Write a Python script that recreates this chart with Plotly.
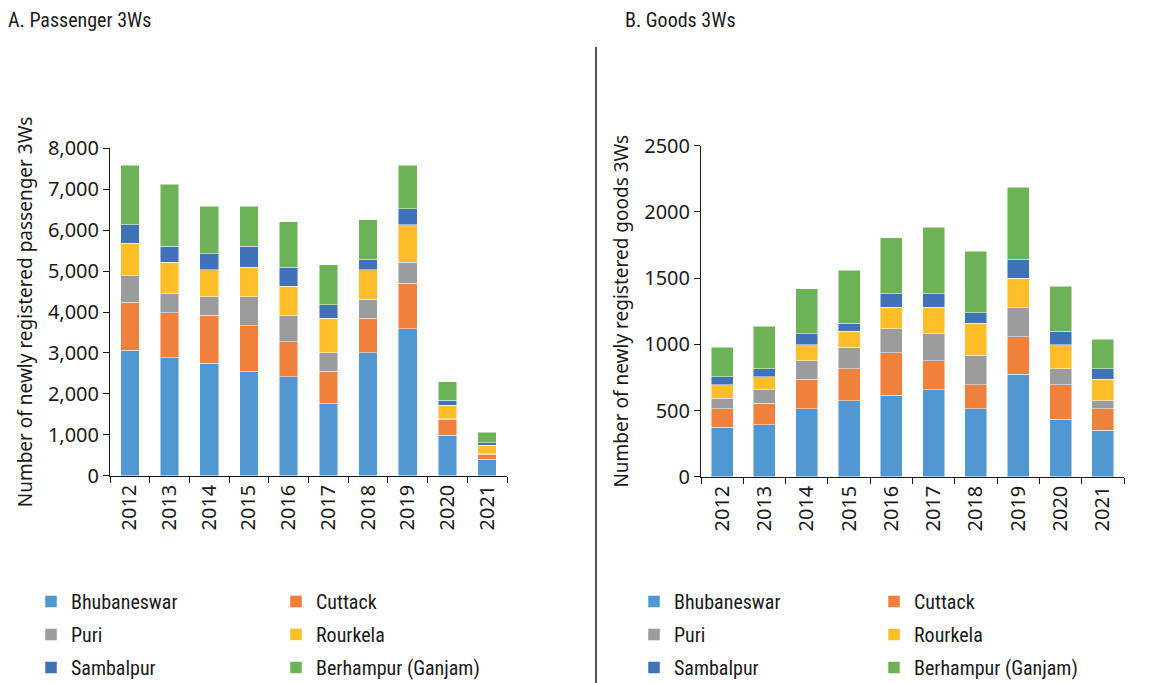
import plotly.graph_objects as go

W, H = 1161, 683
OFFSET = 8  # page body margin shifts the whole figure by 8px

years = ["2012", "2013", "2014", "2015", "2016", "2017", "2018", "2019", "2020", "2021"]
cities = ["Bhubaneswar", "Cuttack", "Puri", "Rourkela", "Sambalpur", "Berhampur (Ganjam)"]
colors = ["#5098D2", "#F0813D", "#9A9C9D", "#FEBE28", "#3F72B9", "#6DB256"]

# A. Passenger 3Ws
pass_bhubaneswar = [3070, 2880, 2745, 2550, 2420, 1770, 3006, 3590, 986, 400]
pass_cuttack = [1170, 1100, 1175, 1110, 850, 780, 844, 1110, 390, 130]
pass_puri = [650, 460, 455, 715, 640, 456, 460, 520, 15, 15]
pass_rourkela = [790, 780, 655, 715, 725, 844, 720, 910, 325, 195]
pass_sambalpur = [450, 390, 390, 520, 455, 330, 260, 395, 130, 65]
pass_berhampur = [1450, 1510, 1170, 980, 1110, 977, 970, 1055, 455, 260]

# B. Goods 3Ws
goods_bhubaneswar = [373, 393, 514, 574, 614, 655, 514, 775, 433, 352]
goods_cuttack = [141, 161, 221, 242, 323, 221, 181, 282, 262, 162]
goods_puri = [80, 101, 141, 161, 181, 202, 221, 222, 121, 60]
goods_rourkela = [101, 100, 121, 121, 161, 201, 242, 221, 181, 161]
goods_sambalpur = [60, 61, 81, 60, 101, 101, 81, 141, 101, 81]
goods_berhampur = [222, 322, 342, 403, 423, 503, 463, 544, 342, 221]

passenger = [pass_bhubaneswar, pass_cuttack, pass_puri, pass_rourkela, pass_sambalpur, pass_berhampur]
goods = [goods_bhubaneswar, goods_cuttack, goods_puri, goods_rourkela, goods_sambalpur, goods_berhampur]


def px_x(v):
    return (v - OFFSET) / W


def px_y(v):
    return 1 - (v - OFFSET) / H


NARROW = "Liberation Sans Narrow, Roboto Condensed, Arial Narrow, sans-serif"
TICKFONT = dict(family="Noto Sans", size=20, color="#1a1a1a")

fig = go.Figure()

# legends: two columns per panel -> two vertical legends per panel
for i, (city, col) in enumerate(zip(cities, colors)):
    fig.add_trace(go.Bar(
        x=years, y=passenger[i], name=city, marker=dict(color=col, line=dict(color="rgba(255,255,255,0.6)", width=0.8)),
        width=0.47, xaxis="x", yaxis="y", legend="legend" if i % 2 == 0 else "legend2",
        legendgroup="p" + city,
    ))
for i, (city, col) in enumerate(zip(cities, colors)):
    fig.add_trace(go.Bar(
        x=years, y=goods[i], name=city, marker=dict(color=col, line=dict(color="rgba(255,255,255,0.6)", width=0.8)),
        width=0.52, xaxis="x2", yaxis="y2", legend="legend3" if i % 2 == 0 else "legend4",
        legendgroup="g" + city,
    ))

axis_common = dict(
    showline=True, linecolor="#1a1a1a", linewidth=1, ticks="outside", ticklen=6,
    tickcolor="#1a1a1a", showgrid=False, zeroline=False, tickfont=TICKFONT, automargin=False,
)

fig.update_layout(
    width=W, height=H, barmode="stack", plot_bgcolor="white", paper_bgcolor="white",
    margin=dict(l=0, r=0, t=0, b=0, autoexpand=False),
    xaxis=dict(domain=[px_x(110), px_x(507)], tickangle=-90, tickson="boundaries", **axis_common),
    yaxis=dict(domain=[px_y(475.7), px_y(148.3)], range=[0, 8000], dtick=1000, tickformat=",",
               title=dict(text="Number of newly registered passenger 3Ws",
                          font=dict(family="Noto Sans", size=19, color="#1a1a1a"), standoff=10),
               **axis_common),
    xaxis2=dict(domain=[px_x(701), px_x(1124)], tickangle=-90, tickson="boundaries", anchor="y2", **axis_common),
    yaxis2=dict(domain=[px_y(476.7), px_y(145.7)], range=[0, 2500], dtick=500, anchor="x2",
                title=dict(text="Number of newly registered goods 3Ws",
                           font=dict(family="Noto Sans", size=19, color="#1a1a1a"), standoff=10),
                **axis_common),
    showlegend=True,
)

leg_common = dict(orientation="v", traceorder="grouped", tracegroupgap=4, yanchor="top",
                  xanchor="left", font=dict(family=NARROW, size=20, color="#1a1a1a"),
                  bgcolor="rgba(0,0,0,0)", itemwidth=30)
fig.update_layout(
    legend=dict(x=px_x(31), y=px_y(582), **leg_common),
    legend2=dict(x=px_x(276), y=px_y(582), **leg_common),
    legend3=dict(x=px_x(634), y=px_y(582), **leg_common),
    legend4=dict(x=px_x(874), y=px_y(582), **leg_common),
)

# panel titles
fig.add_annotation(text="A. Passenger 3Ws", x=px_x(6), y=px_y(20), xref="paper", yref="paper",
                   xanchor="left", yanchor="middle", showarrow=False,
                   font=dict(family=NARROW, size=20, color="#1a1a1a"))
fig.add_annotation(text="B. Goods 3Ws", x=px_x(623), y=px_y(20), xref="paper", yref="paper",
                   xanchor="left", yanchor="middle", showarrow=False,
                   font=dict(family=NARROW, size=20, color="#1a1a1a"))

# divider between the panels
fig.add_shape(type="line", xref="paper", yref="paper", x0=px_x(596), x1=px_x(596),
              y0=px_y(47), y1=0, line=dict(color="#1a1a1a", width=1.5))

fig.write_html("out.html")
